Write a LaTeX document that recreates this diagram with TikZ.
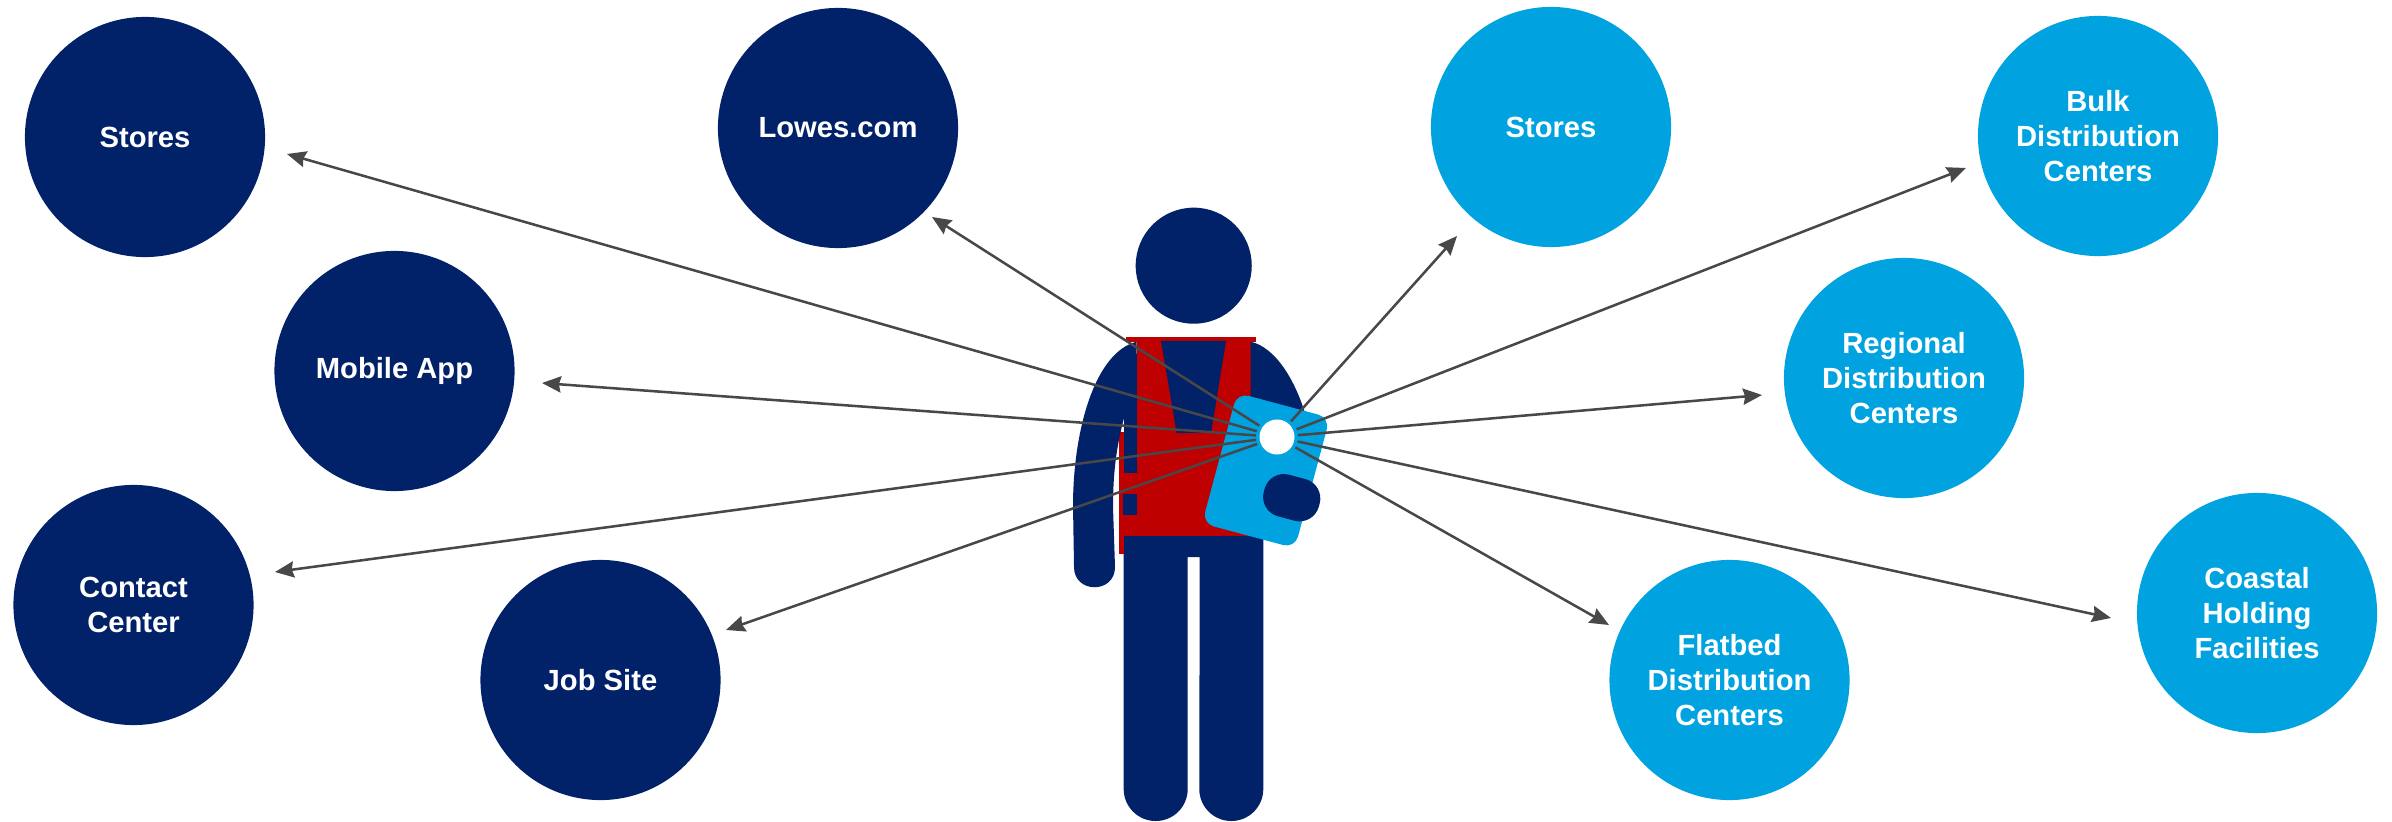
\documentclass[tikz,border=0pt]{standalone}
\usepackage{fontspec}
\setmainfont{Liberation Sans}
\usetikzlibrary{arrows.meta}
\definecolor{navyblue}{HTML}{012169}
\definecolor{skyblue}{HTML}{00A3E0}
\definecolor{vestred}{HTML}{BE0000}
\definecolor{linegray}{HTML}{484848}

\begin{document}
\begin{tikzpicture}[
    x=0.01cm, y=-0.01cm,
    every node/.style={font=\fontsize{8.3}{10}\selectfont\bfseries},
    place/.style={circle, minimum size=2.4cm, inner sep=0pt, align=center, text=white},
    inside/.style={place, fill=navyblue},
    outside/.style={place, fill=skyblue},
    link/.style={draw=linegray, line width=0.72pt, -{Stealth[length=5.4pt, width=4.6pt, inset=0.6pt]}},
]
\useasboundingbox (0,0) rectangle (2392,822);

% === Left places (dark circles) ===
\node[inside] (storesA) at (145,137) {Stores};
\node[inside] (lowes) at (838,128) {Lowes.com};
\node[inside] (mobile) at (394.5,371) {Mobile App};
\node[inside] (contact) at (133.5,605) {Contact\\Center};
\node[inside] (jobsite) at (600.5,680) {Job Site};

% === Right places (light circles) ===
\node[outside] (storesB) at (1551,127) {Stores};
\node[outside] (bulk) at (2098,136) {Bulk\\Distribution\\Centers};
\node[outside] (regional) at (1904,378) {Regional\\Distribution\\Centers};
\node[outside] (flatbed) at (1729.5,680) {Flatbed\\Distribution\\Centers};
\node[outside] (coastal) at (2257,613) {Coastal\\Holding\\Facilities};

% === Figure: head and legs ===
\fill[navyblue] (1193.7,265.7) circle (0.58cm);
\fill[navyblue] (1123.7,536) -- (1263.3,536) -- (1263.3,789)
    arc[start angle=0, end angle=180, radius=0.32cm, y radius=-0.32cm]
    -- (1199.7,557) -- (1187.7,557) -- (1187.7,789)
    arc[start angle=0, end angle=180, radius=0.32cm, y radius=-0.32cm] -- cycle;

% === Figure: vest ===
\fill[vestred] (1126,337) rectangle (1256,342);
\fill[vestred] (1137,337) rectangle (1250.5,536);
\fill[vestred] (1119,432) rectangle (1137,554);
\fill[navyblue] (1123.7,536) rectangle (1137,560);
\fill[navyblue] (1161,341) -- (1226,341) -- (1211,433) -- (1176.7,433) -- cycle;

% === Figure: arms ===
\fill[navyblue] (1136.7,341.7) .. controls (1095,352) and (1073,430) .. (1073,506)
    -- (1074,567) .. controls (1074,594) and (1115,594) .. (1115,567)
    -- (1113,507) .. controls (1113,470) and (1117,445) .. (1124,418)
    -- (1124,473) -- (1137,473) -- cycle;
\fill[navyblue] (1123,494) rectangle (1137,515);
\fill[navyblue] (1250.5,341.7) .. controls (1275,347) and (1296,380) .. (1307,420)
    -- (1250.5,420) -- cycle;

% === Tablet and hand ===
\node[fill=skyblue, rotate=-15, minimum width=0.96cm, minimum height=1.35cm,
    rounded corners=0.12cm, inner sep=0pt] (tablet) at (1266,470.5) {};
\node[fill=navyblue, rotate=-15, minimum width=0.57cm, minimum height=0.43cm,
    rounded corners=0.2cm, inner sep=0pt] (hand) at (1291.7,497.7) {};

% === Arrow tips ===
\coordinate (tipA) at (287,154);
\coordinate (tipB) at (932,217);
\coordinate (tipC) at (542,383);
\coordinate (tipD) at (275,572);
\coordinate (tipE) at (726,630);
\coordinate (tipF) at (1457,236);
\coordinate (tipG) at (1966,168);
\coordinate (tipH) at (1762,395);
\coordinate (tipI) at (1609,625);
\coordinate (tipJ) at (2111,618);

% === Hub and arrows ===
\node[circle, fill=white, minimum size=0.35cm, inner sep=0pt, outer sep=1pt] (hub) at (1277,437) {};
\foreach \tip in {tipA,tipB,tipC,tipD,tipE,tipF,tipG,tipH,tipI,tipJ}
    \draw[link] (hub) -- (\tip);

\end{tikzpicture}
\end{document}
